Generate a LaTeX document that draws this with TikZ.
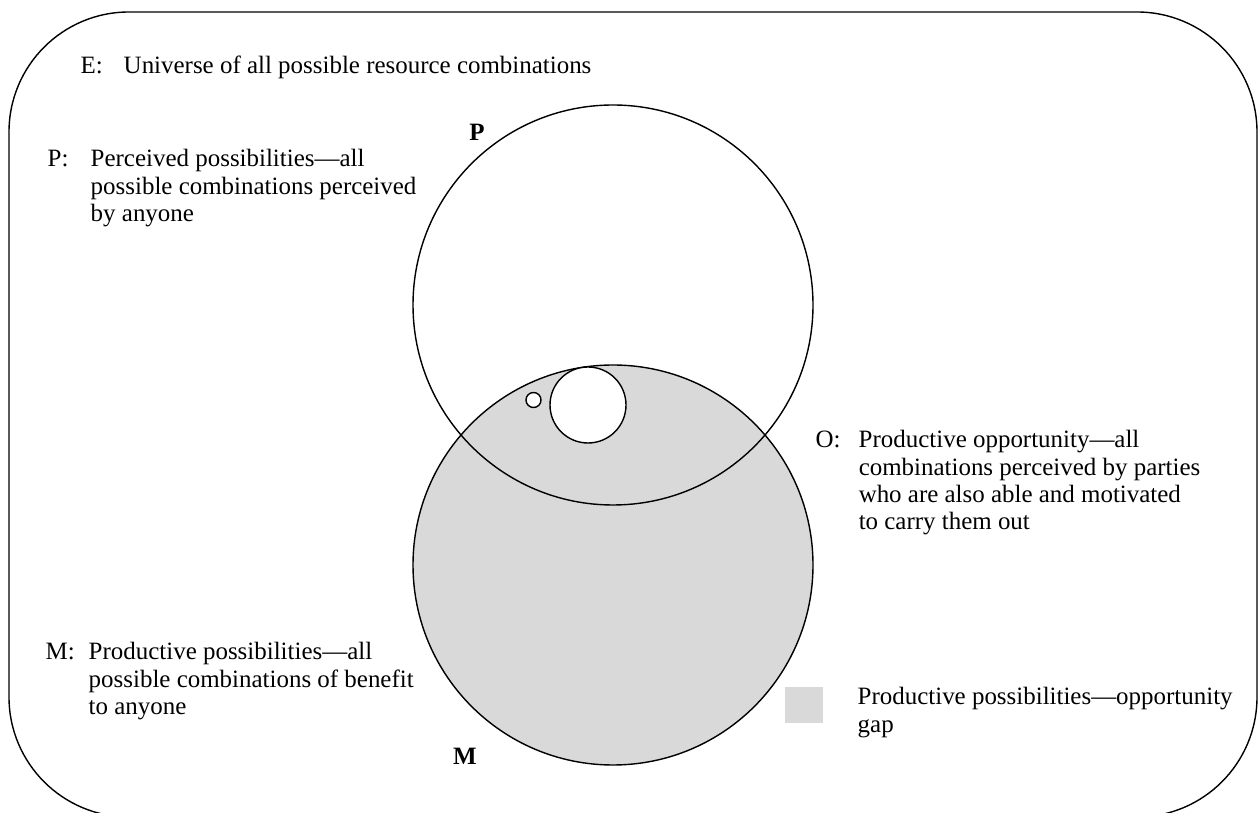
\documentclass[tikz,border=0pt]{standalone}
\usepackage{fontspec}
\setmainfont{Liberation Serif}
\usepackage{tikz}
\usetikzlibrary{positioning}
\definecolor{stipplegray}{rgb}{0.85, 0.85, 0.85}
\newcommand{\keyed}[2]{\makebox[24.5pt][l]{#1}\begin{tabular}[t]{@{}l@{}}#2\end{tabular}}
\tikzset{
  keytext/.style={anchor=base west, inner sep=0pt},
  setlabel/.style={inner sep=0pt, font=\bfseries}
}
\begin{document}
\fontsize{14.2}{15.4}\selectfont
\begin{tikzpicture}[x=0.02cm, y=-0.02cm, line width=0.8pt]
        \useasboundingbox (0,0) rectangle (1258,813);
        \clip (0,0) rectangle (1258,813);
        \draw[rounded corners=2.4cm] (9,12) rectangle (1257,817);
        \fill[stipplegray] (613,565) circle [radius=200];
        \draw (613,565) circle [radius=200];
        \draw (613,305) circle [radius=200];
        \filldraw[fill=white] (588,405) circle [radius=38];
        \filldraw[fill=white] (533.5,400) circle [radius=7.5];
        \node[setlabel] (plabel) at (477,132) {P};
        \node[setlabel] (mlabel) at (465,756) {M};
        \node[keytext] (eblock) at (80,74) {\keyed{E:}{Universe of all possible resource combinations}};
        \node[keytext] (pblock) at (47,167) {\keyed{P:}{Perceived possibilities---all\\possible combinations perceived\\by anyone}};
        \node[keytext] (oblock) at (815,448) {\keyed{O:}{Productive opportunity---all\\combinations perceived by parties\\who are also able and motivated\\to carry them out}};
        \node[keytext] (mblock) at (45,660) {\keyed{M:}{Productive possibilities---all\\possible combinations of benefit\\to anyone}};
        \fill[stipplegray] (785,687) rectangle (823,723);
        \node[keytext] (gaptext) at (857,705) {\begin{tabular}[t]{@{}l@{}}Productive possibilities---opportunity\\gap\end{tabular}};
    \end{tikzpicture}
\end{document}
